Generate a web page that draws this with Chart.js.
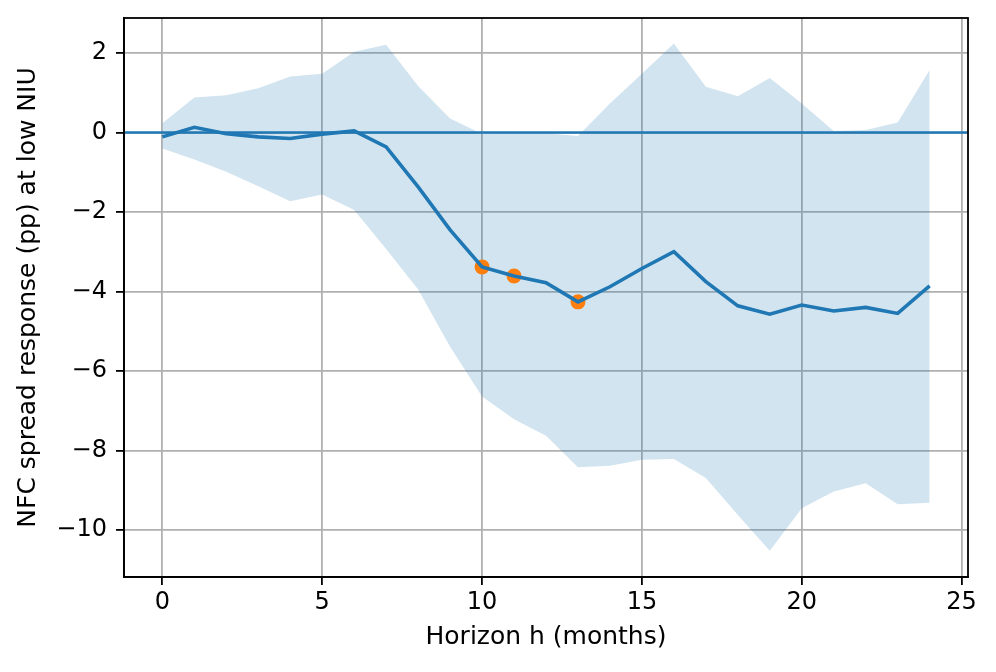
<!DOCTYPE html>
<html>
<head>
<meta charset="utf-8">
<script src="https://cdn.jsdelivr.net/npm/chart.js@4.4.0/dist/chart.umd.min.js"></script>
<style>
    body { margin: 0; background: #fff; }
    #wrap { width: 996px; height: 672px; }
</style>
</head>
<body>
<div id="wrap"><canvas id="irfChart"></canvas></div>
<script>
// Horizons (months)
const horizons = [0, 1, 2, 3, 4, 5, 6, 7, 8, 9, 10, 11, 12, 13, 14, 15, 16, 17, 18, 19, 20, 21, 22, 23, 24];

// Point estimate of the response (pp)
const response = [-0.11, 0.13, -0.03, -0.11, -0.15, -0.04, 0.04, -0.36, -1.37, -2.45, -3.38, -3.61, -3.78, -4.26,
    -3.88, -3.42, -3.0, -3.75, -4.36, -4.57, -4.34, -4.49, -4.40, -4.55, -3.86];

// Confidence band
const upperBand = [0.23, 0.88, 0.94, 1.11, 1.41, 1.48, 2.03, 2.21, 1.17, 0.35, -0.04, -0.02, -0.02, -0.09,
    0.73, 1.48, 2.24, 1.15, 0.91, 1.37, 0.73, 0.04, 0.06, 0.25, 1.57];
const lowerBand = [-0.40, -0.68, -0.99, -1.35, -1.73, -1.56, -1.95, -2.93, -3.95, -5.39, -6.64, -7.21, -7.63, -8.42,
    -8.38, -8.23, -8.21, -8.69, -9.62, -10.52, -9.45, -9.03, -8.82, -9.35, -9.31];

// Horizons flagged as significant
const significantH = [10, 11, 13];

// Axis ticks and limits
const xTicks = [0, 5, 10, 15, 20, 25];
const yTicks = [-10, -8, -6, -4, -2, 0, 2];
const X_MIN = -1.2, X_MAX = 25.2;
const Y_MIN = -11.18, Y_MAX = 2.88;

const BLUE = '#1f77b4';
const ORANGE = '#ff7f0e';
const TICK_FONT = { family: 'DejaVu Sans', size: 24 };
const TITLE_FONT = { family: 'DejaVu Sans', size: 25 };

const pts = (ys) => horizons.map((h, i) => ({ x: h, y: ys[i] }));
const fmt = (v) => String(v).replace('-', '\u2212');

// Top and right spines
const framePlugin = {
    id: 'frame',
    afterDraw(chart) {
        const { ctx, chartArea: a } = chart;
        ctx.save();
        ctx.strokeStyle = '#000';
        ctx.lineWidth = 1.8;
        ctx.strokeRect(a.left, a.top, a.right - a.left, a.bottom - a.top);
        ctx.restore();
    }
};

const ctx = document.getElementById('irfChart').getContext('2d');
new Chart(ctx, {
    type: 'line',
    data: {
        datasets: [
            {
                label: 'lower',
                data: pts(lowerBand),
                borderWidth: 0,
                pointRadius: 0,
                fill: false,
                order: 5
            },
            {
                label: 'band',
                data: pts(upperBand),
                borderWidth: 0,
                pointRadius: 0,
                backgroundColor: 'rgba(31,119,180,0.2)',
                fill: '-1',
                order: 4
            },
            {
                label: 'significant',
                type: 'scatter',
                data: significantH.map(h => ({ x: h, y: response[horizons.indexOf(h)] })),
                backgroundColor: ORANGE,
                borderWidth: 0,
                pointRadius: 7.5,
                order: 3
            },
            {
                label: 'zero',
                data: [{ x: X_MIN, y: 0 }, { x: X_MAX, y: 0 }],
                borderColor: BLUE,
                borderWidth: 2.3,
                pointRadius: 0,
                fill: false,
                order: 2
            },
            {
                label: 'response',
                data: pts(response),
                borderColor: BLUE,
                borderWidth: 3.6,
                pointRadius: 0,
                fill: false,
                tension: 0,
                order: 1
            }
        ]
    },
    options: {
        responsive: true,
        maintainAspectRatio: false,
        animation: false,
        layout: { padding: { top: 18, right: 28, left: 0, bottom: 0 } },
        plugins: {
            legend: { display: false },
            tooltip: { enabled: false }
        },
        scales: {
            x: {
                type: 'linear',
                min: X_MIN,
                max: X_MAX,
                afterBuildTicks: (s) => { s.ticks = xTicks.map(v => ({ value: v })); },
                afterFit: (s) => { s.height = 672 - 577; s.paddingLeft = 0; s.paddingRight = 0; },
                ticks: { color: '#000', font: TICK_FONT, padding: 3, maxRotation: 0, callback: fmt },
                grid: { color: '#b0b0b0', lineWidth: 1.8, tickColor: '#000', tickLength: 8, tickWidth: 1.8 },
                border: { color: '#000', width: 1.8 },
                title: {
                    display: true,
                    text: 'Horizon h (months)',
                    color: '#000',
                    font: TITLE_FONT,
                    padding: { top: 4, bottom: 20 }
                }
            },
            y: {
                type: 'linear',
                min: Y_MIN,
                max: Y_MAX,
                afterBuildTicks: (s) => { s.ticks = yTicks.map(v => ({ value: v })); },
                afterFit: (s) => { s.width = 124; s.paddingTop = 0; s.paddingBottom = 0; },
                ticks: { color: '#000', font: TICK_FONT, padding: 9, callback: fmt },
                grid: { color: '#b0b0b0', lineWidth: 1.8, tickColor: '#000', tickLength: 8, tickWidth: 1.8 },
                border: { color: '#000', width: 1.8 },
                title: {
                    display: true,
                    text: 'NFC spread response (pp) at low NIU',
                    color: '#000',
                    font: TITLE_FONT,
                    padding: { top: 13, bottom: 4 }
                }
            }
        }
    },
    plugins: [framePlugin]
});
</script>
</body>
</html>
